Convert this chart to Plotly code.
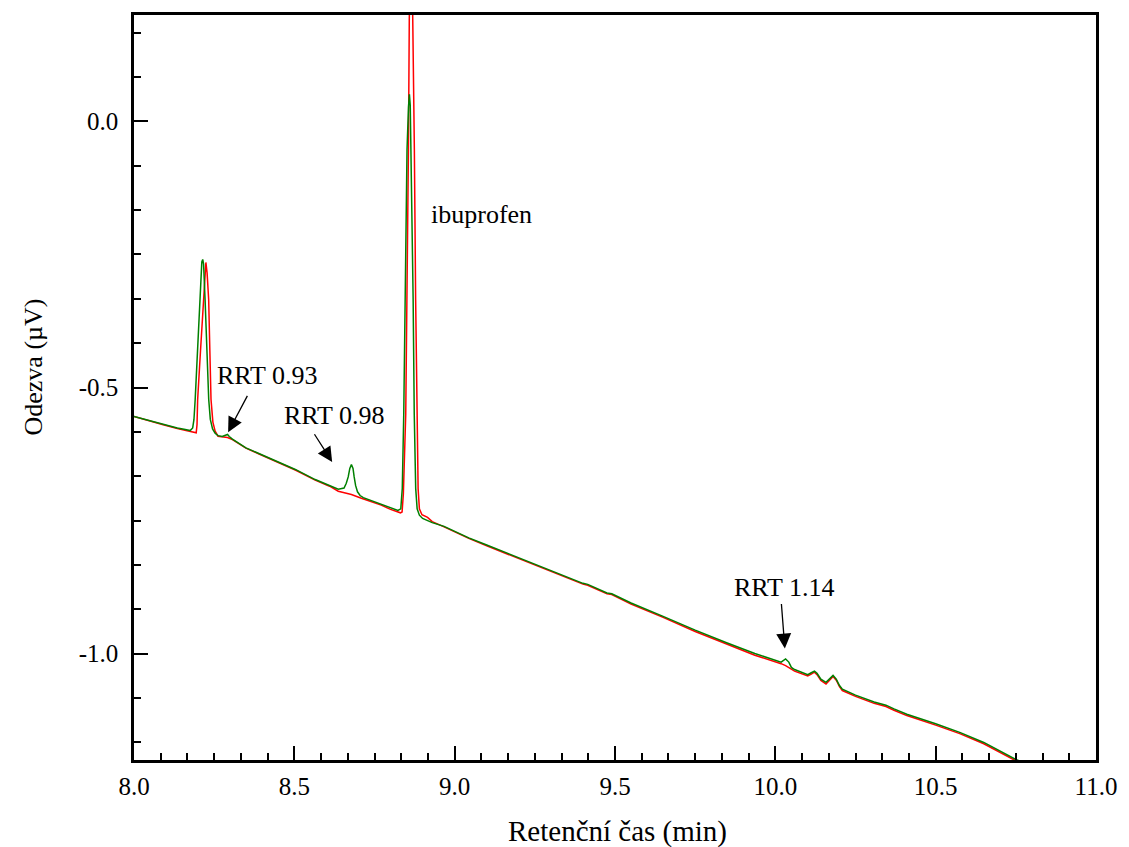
import plotly.graph_objects as go

# Chromatogram traces (retention time in min, response in µV)
time_green = [
    8.000, 8.045, 8.091, 8.135, 8.160, 8.175, 8.183, 8.187, 8.1908, 8.1975,
    8.2041, 8.2090, 8.2115, 8.2143, 8.2170, 8.2217, 8.2275, 8.2330, 8.2380, 8.2450,
    8.2530, 8.2620, 8.2750, 8.2870, 8.2917, 8.2970, 8.3070, 8.3490, 8.3900, 8.4310,
    8.4700, 8.5030, 8.5650, 8.6100, 8.6370, 8.6550, 8.6620, 8.6680, 8.6730, 8.6780,
    8.6830, 8.6866, 8.6910, 8.6970, 8.7050, 8.7150, 8.7710, 8.8000, 8.8230, 8.8320,
    8.8366, 8.8412, 8.8465, 8.8514, 8.8560, 8.8589, 8.8615, 8.8638, 8.8705, 8.8740,
    8.8785, 8.8830, 8.8900, 8.9000, 8.9300, 8.9670, 9.0440, 9.1000, 9.2000, 9.3000,
    9.4000, 9.4150, 9.4500, 9.4750, 9.4900, 9.5500, 9.6500, 9.7500, 9.8500, 9.9360,
    10.0180, 10.0250, 10.0320, 10.0420, 10.0500, 10.0600, 10.0800, 10.1010, 10.1120, 10.1220,
    10.1300, 10.1420, 10.1580, 10.1700, 10.1800, 10.1900, 10.2000, 10.2090, 10.2500, 10.3080,
    10.3450, 10.3700, 10.4100, 10.5000, 10.5750, 10.6500, 10.7500, 10.8000,
]
signal_green = [
    -0.5545, -0.5620, -0.5695, -0.5760, -0.5790, -0.5810, -0.5760, -0.5600, -0.5226, -0.4300,
    -0.3350, -0.2800, -0.2640, -0.2594, -0.2680, -0.3350, -0.4300, -0.5226, -0.5600, -0.5780,
    -0.5860, -0.5905, -0.5920, -0.5890, -0.5883, -0.5920, -0.5970, -0.6135, -0.6240, -0.6350,
    -0.6450, -0.6540, -0.6730, -0.6840, -0.6910, -0.6890, -0.6800, -0.6680, -0.6520, -0.6450,
    -0.6520, -0.6680, -0.6840, -0.6960, -0.7030, -0.7070, -0.7200, -0.7270, -0.7310, -0.7280,
    -0.6900, -0.5508, -0.3346, -0.0526, 0.0270, 0.0508, 0.0300, -0.0526, -0.3346, -0.5508,
    -0.6900, -0.7280, -0.7400, -0.7460, -0.7540, -0.7610, -0.7825, -0.7960, -0.8200, -0.8450,
    -0.8680, -0.8700, -0.8790, -0.8860, -0.8875, -0.9050, -0.9300, -0.9560, -0.9800, -1.0000,
    -1.0160, -1.0130, -1.0100, -1.0160, -1.0260, -1.0300, -1.0340, -1.0395, -1.0360, -1.0330,
    -1.0370, -1.0480, -1.0540, -1.0460, -1.0410, -1.0480, -1.0600, -1.0670, -1.0780, -1.0910,
    -1.0970, -1.1040, -1.1140, -1.1320, -1.1480, -1.1670, -1.1990, -1.2110,
]

time_red = [
    8.000, 8.045, 8.091, 8.135, 8.160, 8.180, 8.194, 8.1965, 8.1985, 8.2075,
    8.2165, 8.2205, 8.2242, 8.2280, 8.2329, 8.2365, 8.2402, 8.2460, 8.2530, 8.2620,
    8.2750, 8.2917, 8.3070, 8.3490, 8.3900, 8.4310, 8.4700, 8.5030, 8.5650, 8.6100,
    8.6370, 8.6780, 8.7090, 8.7710, 8.8000, 8.8310, 8.8360, 8.8400, 8.8474, 8.8514,
    8.8558, 8.8585, 8.8615, 8.8640, 8.8665, 8.8695, 8.8743, 8.8783, 8.8820, 8.8860,
    8.8900, 8.8980, 8.9155, 8.9300, 8.9670, 9.0440, 9.1000, 9.2000, 9.3000, 9.4000,
    9.4150, 9.4500, 9.4750, 9.4900, 9.5500, 9.6500, 9.7500, 9.8500, 9.9360, 10.0180,
    10.0320, 10.0600, 10.0800, 10.1010, 10.1120, 10.1220, 10.1300, 10.1420, 10.1580, 10.1700,
    10.1800, 10.1900, 10.2000, 10.2090, 10.2500, 10.3080, 10.3450, 10.3700, 10.4100, 10.5000,
    10.5750, 10.6500, 10.7500, 10.8000,
]
signal_red = [
    -0.5545, -0.5625, -0.5700, -0.5770, -0.5810, -0.5840, -0.5850, -0.5700, -0.5226, -0.4300,
    -0.3350, -0.2850, -0.2650, -0.2850, -0.3350, -0.4300, -0.5226, -0.5650, -0.5820, -0.5915,
    -0.5930, -0.5940, -0.5980, -0.6140, -0.6250, -0.6360, -0.6460, -0.6550, -0.6740, -0.6855,
    -0.6950, -0.7010, -0.7080, -0.7210, -0.7290, -0.7355, -0.7340, -0.7000, -0.5508, -0.3346,
    -0.0526, 0.1940, 0.3270, 0.3650, 0.3270, 0.1940, -0.0526, -0.3346, -0.5508, -0.6900,
    -0.7280, -0.7390, -0.7440, -0.7520, -0.7620, -0.7835, -0.7975, -0.8215, -0.8465, -0.8695,
    -0.8715, -0.8805, -0.8875, -0.8890, -0.9070, -0.9320, -0.9585, -0.9825, -1.0030, -1.0190,
    -1.0226, -1.0330, -1.0370, -1.0420, -1.0385, -1.0350, -1.0395, -1.0505, -1.0570, -1.0485,
    -1.0430, -1.0500, -1.0620, -1.0695, -1.0805, -1.0935, -1.0995, -1.1065, -1.1165, -1.1345,
    -1.1505, -1.1695, -1.2015, -1.2130,
]

x_tick_vals = [8.0, 8.5, 9.0, 9.5, 10.0, 10.5, 11.0]
x_tick_text = ["8.0", "8.5", "9.0", "9.5", "10.0", "10.5", "11.0"]
y_tick_vals = [-1.0, -0.5, 0.0]
y_tick_text = ["-1.0", "-0.5", "0.0"]

# Peak labels: text position, arrow tail and arrow tip (data coordinates)
label_text = ["RRT 0.93", "RRT 0.98", "RRT 1.14"]
label_pos = [(8.4175, -0.478), (8.6257, -0.553), (10.029, -0.876)]
arrow_tail = [(8.356, -0.513), (8.5598, -0.585), (10.0186, -0.904)]
arrow_tip = [(8.2935, -0.5840), (8.6180, -0.6400), (10.0297, -0.9905)]

SERIF = "Liberation Serif"

fig = go.Figure()
fig.add_trace(go.Scatter(x=time_red, y=signal_red, mode="lines",
                         line=dict(color="#ff0000", width=1.5), showlegend=False))
fig.add_trace(go.Scatter(x=time_green, y=signal_green, mode="lines",
                         line=dict(color="#008000", width=1.5), showlegend=False))

annotations = []
for text, (tx, ty) in zip(label_text, label_pos):
    annotations.append(dict(x=tx, y=ty, xref="x", yref="y", text=text, showarrow=False,
                            font=dict(family=SERIF, size=26, color="black")))
for (ax_, ay_), (hx, hy) in zip(arrow_tail, arrow_tip):
    annotations.append(dict(x=hx, y=hy, ax=ax_, ay=ay_, xref="x", yref="y",
                            axref="x", ayref="y", text="", showarrow=True,
                            arrowhead=2, arrowsize=2.3, arrowwidth=1.3,
                            arrowcolor="black", standoff=0))
annotations.append(dict(x=9.0825, y=-0.1748, xref="x", yref="y", text="ibuprofen",
                        showarrow=False, font=dict(family=SERIF, size=26, color="black")))

# Axis titles
annotations.append(dict(x=-0.1041, y=0.528, xref="paper", yref="paper",
                        text="Odezva (µV)", textangle=-90, showarrow=False,
                        xanchor="center", yanchor="middle",
                        font=dict(family=SERIF, size=26, color="black")))
annotations.append(dict(x=0.503, y=-0.0966, xref="paper", yref="paper",
                        text="Retenční čas (min)", showarrow=False,
                        xanchor="center", yanchor="middle",
                        font=dict(family=SERIF, size=29, color="black")))

axis_common = dict(
    showline=True, linewidth=2.5, linecolor="black", mirror=True,
    showgrid=False, zeroline=False,
    ticks="inside", ticklen=14, tickwidth=2, tickcolor="black",
    tickfont=dict(family=SERIF, size=25, color="black"),
    tickmode="array",
)

fig.update_layout(
    width=1129, height=847,
    margin=dict(l=134, r=25, t=15, b=87),
    paper_bgcolor="white", plot_bgcolor="white",
    font=dict(family=SERIF, color="black"),
    annotations=annotations,
    xaxis=dict(
        **axis_common,
        range=[8.0, 11.0], tickvals=x_tick_vals, ticktext=x_tick_text,
        ticklabelstandoff=2,
        minor=dict(ticks="inside", ticklen=7, tickwidth=2, tickcolor="black",
                   tickmode="linear", tick0=8.0, dtick=0.5 / 6),
    ),
    yaxis=dict(
        **axis_common,
        range=[-1.2, 0.2], tickvals=y_tick_vals, ticktext=y_tick_text,
        ticklabelstandoff=8,
        minor=dict(ticks="inside", ticklen=7, tickwidth=2, tickcolor="black",
                   tickmode="linear", tick0=0.0, dtick=0.5 / 6),
    ),
)

fig.write_html("out.html")
